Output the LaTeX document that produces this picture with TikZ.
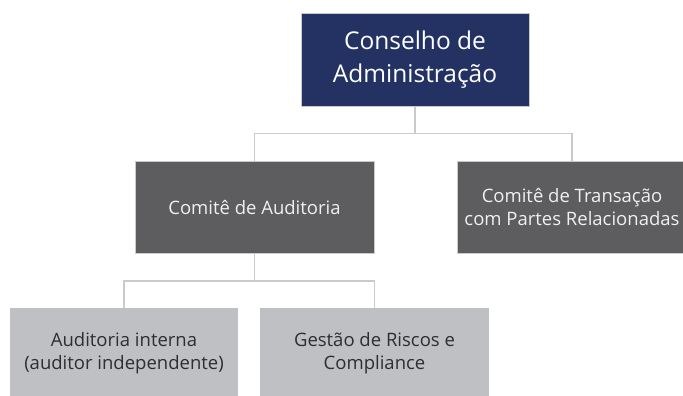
\documentclass[tikz,border=0pt]{standalone}
\usepackage{fontspec}
\setmainfont{Open Sans}
\definecolor{navy}{HTML}{233263}
\definecolor{dgray}{HTML}{5D5D5F}
\definecolor{lgray}{HTML}{BFC0C4}
\definecolor{edgec}{HTML}{CACACA}
\definecolor{ltext}{HTML}{2E2E2E}
\tikzset{
  box/.style={rectangle, draw=edgec, line width=1pt, inner sep=0pt, align=center},
  topbox/.style={box, fill=navy, text=white, minimum width=228pt, minimum height=92pt, font=\fontsize{24.5}{33}\selectfont},
  midbox/.style={box, fill=dgray, text=white!94!black, minimum height=92pt, font=\fontsize{18.5}{23}\selectfont},
  lowbox/.style={box, fill=lgray, draw=none, text=ltext, minimum height=90pt, minimum width=228pt, font=\fontsize{18.5}{23}\selectfont},
  conn/.style={draw=edgec, line width=1.2pt}
}
\begin{document}
\begin{tikzpicture}[x=1pt,y=-1pt]
\clip (0,0) rectangle (683,396);
\fill[white] (0,0) rectangle (683,396);
\node[topbox] (top) at (415,60) {Conselho de\\Administração};
\node[midbox, minimum width=239pt] (aud) at (254.5,207.5) {Comitê de Auditoria};
\node[midbox, minimum width=230pt] (trans) at (572,207.5) {Comitê de Transação\\com Partes Relacionadas};
\node[lowbox] (ai) at (124,353) {Auditoria interna\\(auditor independente)};
\node[lowbox, minimum width=229pt] (gr) at (374.5,353) {Gestão de Riscos e\\Compliance};
\coordinate (bus1) at (415,133.5);
\coordinate (bus2) at (254.5,281);
\draw[conn] (top.south) -- (bus1);
\draw[conn] (aud.north) |- (bus1) -| (trans.north);
\draw[conn] (aud.south) -- (bus2);
\draw[conn] (ai.north) |- (bus2) -| (gr.north);
\end{tikzpicture}
\end{document}
